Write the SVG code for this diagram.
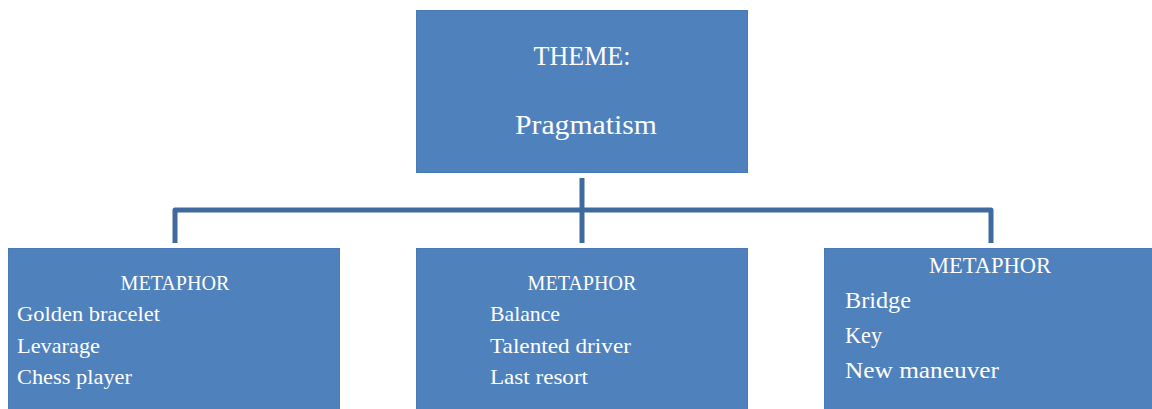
<svg xmlns="http://www.w3.org/2000/svg" width="1152" height="409" viewBox="0 0 1152 409">
<style>
.box{fill:#4f81bd;stroke:#4a7ab5;stroke-width:1}
.t{font-family:"Liberation Serif","Times New Roman",serif;fill:#ffffff}
.big{font-size:27px}
.sm{font-size:21px}
.lg{font-size:23px}
.mid{text-anchor:middle}
.conn{fill:none;stroke:#3f6a9d;stroke-width:5;stroke-linejoin:round}
</style>
<rect width="1152" height="409" fill="#ffffff"/>
<g id="connectors">
<path class="conn" d="M582 178 V243"/>
<path class="conn" d="M175 243 V210 H991 V243"/>
</g>
<g id="theme">
<rect class="box" x="416.5" y="10.5" width="331" height="162"/>
<text class="t big mid" x="582" y="65" textLength="97" lengthAdjust="spacingAndGlyphs">THEME:</text>
<text class="t big mid" x="586" y="134" textLength="142" lengthAdjust="spacingAndGlyphs">Pragmatism</text>
</g>
<g id="metaphor-left">
<rect class="box" x="8.5" y="248.5" width="331" height="165"/>
<text class="t sm mid" x="175" y="290" textLength="109" lengthAdjust="spacingAndGlyphs">METAPHOR</text>
<text class="t sm" x="17" y="321" textLength="143" lengthAdjust="spacingAndGlyphs">Golden bracelet</text>
<text class="t sm" x="17" y="353" textLength="83" lengthAdjust="spacingAndGlyphs">Levarage</text>
<text class="t sm" x="17" y="384" textLength="115" lengthAdjust="spacingAndGlyphs">Chess player</text>
</g>
<g id="metaphor-middle">
<rect class="box" x="416.5" y="248.5" width="331" height="165"/>
<text class="t sm mid" x="582" y="290" textLength="109" lengthAdjust="spacingAndGlyphs">METAPHOR</text>
<text class="t sm" x="490" y="321" textLength="70" lengthAdjust="spacingAndGlyphs">Balance</text>
<text class="t sm" x="490" y="353" textLength="141" lengthAdjust="spacingAndGlyphs">Talented driver</text>
<text class="t sm" x="490" y="384" textLength="98" lengthAdjust="spacingAndGlyphs">Last resort</text>
</g>
<g id="metaphor-right">
<rect class="box" x="824.5" y="248.5" width="335" height="165"/>
<text class="t lg mid" x="990" y="273" textLength="122" lengthAdjust="spacingAndGlyphs">METAPHOR</text>
<text class="t lg" x="845" y="308" textLength="66" lengthAdjust="spacingAndGlyphs">Bridge</text>
<text class="t lg" x="845" y="343" textLength="37" lengthAdjust="spacingAndGlyphs">Key</text>
<text class="t lg" x="845" y="378" textLength="154" lengthAdjust="spacingAndGlyphs">New maneuver</text>
</g>
</svg>
